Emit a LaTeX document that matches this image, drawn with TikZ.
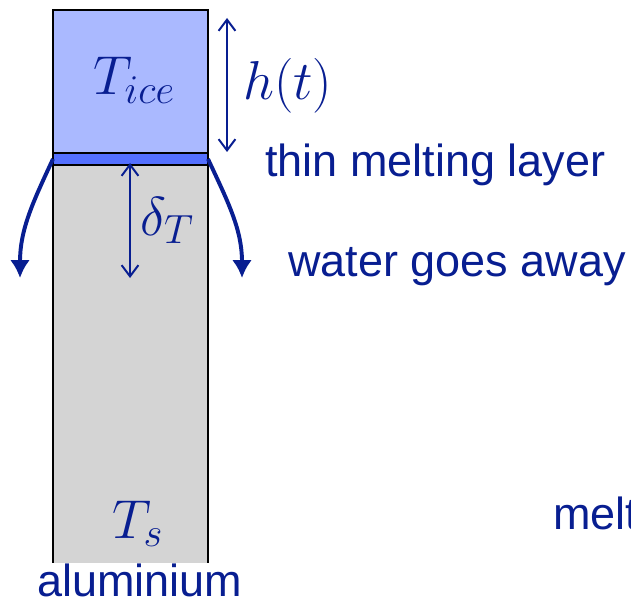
\RequirePackage{fix-cm}
\documentclass[tikz,border=0pt]{standalone}
\usepackage{amsmath,amssymb}
\usepackage{fontspec}
\setmainfont{Liberation Sans}
\usetikzlibrary{arrows.meta,positioning}
\definecolor{icnavy}{RGB}{8,30,145}
\definecolor{icice}{RGB}{170,185,255}
\definecolor{iclayer}{RGB}{84,112,255}
\definecolor{icalu}{RGB}{212,212,212}
\DeclareMathSizes{39}{39}{29}{21}

\begin{document}
\begin{tikzpicture}[
      lbl/.style={anchor=base west,inner sep=0,text=icnavy,
        font=\fontsize{32}{38}\selectfont},
      mth/.style={anchor=base west,inner sep=0,text=icnavy,
        font=\fontsize{39}{46}\selectfont},
      blk/.style={minimum width=3.875cm,inner sep=0,outer sep=0},
      dim/.style={{Straight Barb[length=.28cm,width=.42cm]}-{Straight Barb[length=.28cm,width=.42cm]},
        icnavy,line width=1.4pt},
      flow/.style={-{Latex[length=.45cm,width=.5cm]},icnavy,line width=2.8pt}]
      \useasboundingbox (0,0) rectangle (15.775,-15.075);
      % aluminium block, sides only
      \node[blk,fill=icalu,minimum height=9.95cm,anchor=north west] (alu) at (1.325,-4.125) {};
      \draw[line width=2pt] (alu.north west)--(alu.south west);
      \draw[line width=2pt] (alu.north east)--(alu.south east);
      \node[blk,draw,line width=2pt,fill=iclayer,minimum height=.3cm,anchor=north west]
        (layer) at (1.325,-3.825) {};
      \node[blk,draw,line width=2pt,fill=icice,minimum height=3.575cm,anchor=north west]
        (ice) at (1.325,-.25) {};
      % labels
      \node[mth] (tice) at (2.325,-2.375) {$T_{ice}$};
      \node[mth] (ts) at (2.8,-13.45) {$T_s$};
      \node[mth] (ht) at (6.075,-2.5) {$h(t)$};
      \node[mth] (dt) at (3.5,-5.875) {$\delta_T$};
      \node[lbl] (thin) at (6.625,-4.4) {thin melting layer};
      \node[lbl] (water) at (7.2,-6.9) {water goes away};
      \node[lbl] (melt) at (13.825,-13.225) {melt};
      \node[lbl] (alulbl) at (0.925,-14.9) {aluminium};
      % arrows
      \coordinate (htop) at (5.675,-.45);
      \coordinate (hbot) at (5.675,-3.8);
      \coordinate (dtop) at (3.25,-4.075);
      \coordinate (dbot) at (3.25,-6.95);
      \coordinate (lw) at (0.5,-6.95);
      \coordinate (rw) at (6.05,-6.95);
      \draw[dim] (htop)--(hbot);
      \draw[dim] (dtop)--(dbot);
      \draw[flow] (layer.west) to[out=-115,in=90] (lw);
      \draw[flow] (layer.east) to[out=-65,in=90] (rw);
    \end{tikzpicture}
\end{document}
